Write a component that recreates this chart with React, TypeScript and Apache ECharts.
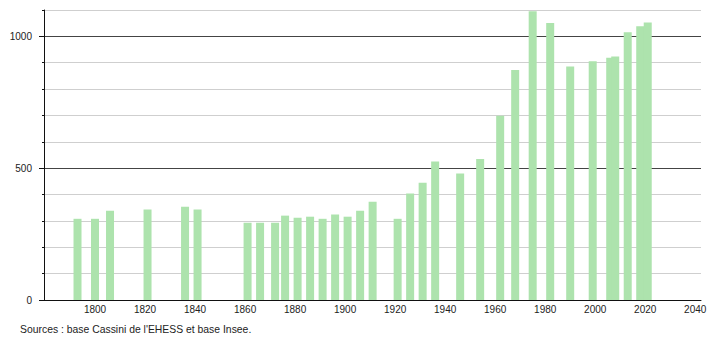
import React, { useEffect, useRef } from "react";
import * as echarts from "echarts";

const years = [
  1793, 1800, 1806, 1821, 1836, 1841, 1861, 1866, 1872, 1876, 1881, 1886, 1891,
  1896, 1901, 1906, 1911, 1921, 1926, 1931, 1936, 1946, 1954, 1962, 1968, 1975,
  1982, 1990, 1999, 2006, 2008, 2013, 2018, 2021,
];
const population = [
  308, 308, 339, 343, 354, 343, 293, 293, 293, 320, 312, 316, 308,
  324, 316, 339, 373, 308, 404, 445, 525, 480, 535, 699, 872, 1095,
  1051, 886, 906, 919, 924, 1016, 1038, 1053,
];
const xTickLabels = [1800, 1820, 1840, 1860, 1880, 1900, 1920, 1940, 1960, 1980, 2000, 2020, 2040];
const yMajorTicks = [0, 500, 1000];
const sourceText = "Sources : base Cassini de l'EHESS et base Insee.";

const FONT = '"Liberation Sans", Arial, sans-serif';

export default function App() {
  const ref = useRef<HTMLDivElement>(null);
  useEffect(() => {
    if (!ref.current) return;
    const chart = echarts.init(ref.current, null, { renderer: "svg" });
    chart.setOption({
      animation: false,
      grid: { left: 44, right: 9, top: 10, bottom: 40, containLabel: false },
      xAxis: {
        type: "value",
        min: 1779.6,
        max: 2042.3,
        axisLine: { show: true, lineStyle: { color: "#111", width: 1 } },
        axisTick: { show: false },
        splitLine: { show: false },
        axisLabel: {
          customValues: xTickLabels,
          color: "#222",
          fontSize: 10,
          fontFamily: FONT,
          margin: 4,
          formatter: (v: number) => String(Math.round(v)),
        },
      },
      yAxis: [
        {
          type: "value",
          min: 0,
          max: 1100,
          interval: 100,
          axisLine: { show: true, lineStyle: { color: "#111", width: 1 } },
          axisTick: { show: true, length: 2, lineStyle: { color: "#111" } },
          splitLine: {
            show: true,
            lineStyle: { color: ["#444", "#cfcfcf", "#cfcfcf", "#cfcfcf", "#cfcfcf"], width: 1 },
          },
          axisLabel: {
            color: "#222",
            fontSize: 10,
            fontFamily: FONT,
            margin: 12,
            formatter: (v: number) => (v % 500 === 0 ? String(v) : ""),
          },
        },
        {
          type: "value",
          position: "left",
          min: 0,
          max: 1100,
          interval: 100,
          axisLine: { show: false },
          axisTick: { show: true, length: 5, customValues: yMajorTicks, lineStyle: { color: "#111" } },
          splitLine: { show: false },
          axisLabel: { show: false },
        },
      ],
      series: [
        {
          type: "bar",
          barWidth: 8,
          itemStyle: { color: "#ade3ad" },
          data: years.map((y, i) => [y, population[i]]),
        },
      ],
      graphic: [
        {
          type: "text",
          left: 20,
          top: 324,
          style: { text: sourceText, font: `10.4px ${FONT}`, fill: "#222" },
        },
      ],
    });
    return () => chart.dispose();
  }, []);
  return (
    <div
      ref={ref}
      style={{ position: "fixed", left: 0, top: 0, width: 710, height: 340, background: "#fff" }}
    />
  );
}
